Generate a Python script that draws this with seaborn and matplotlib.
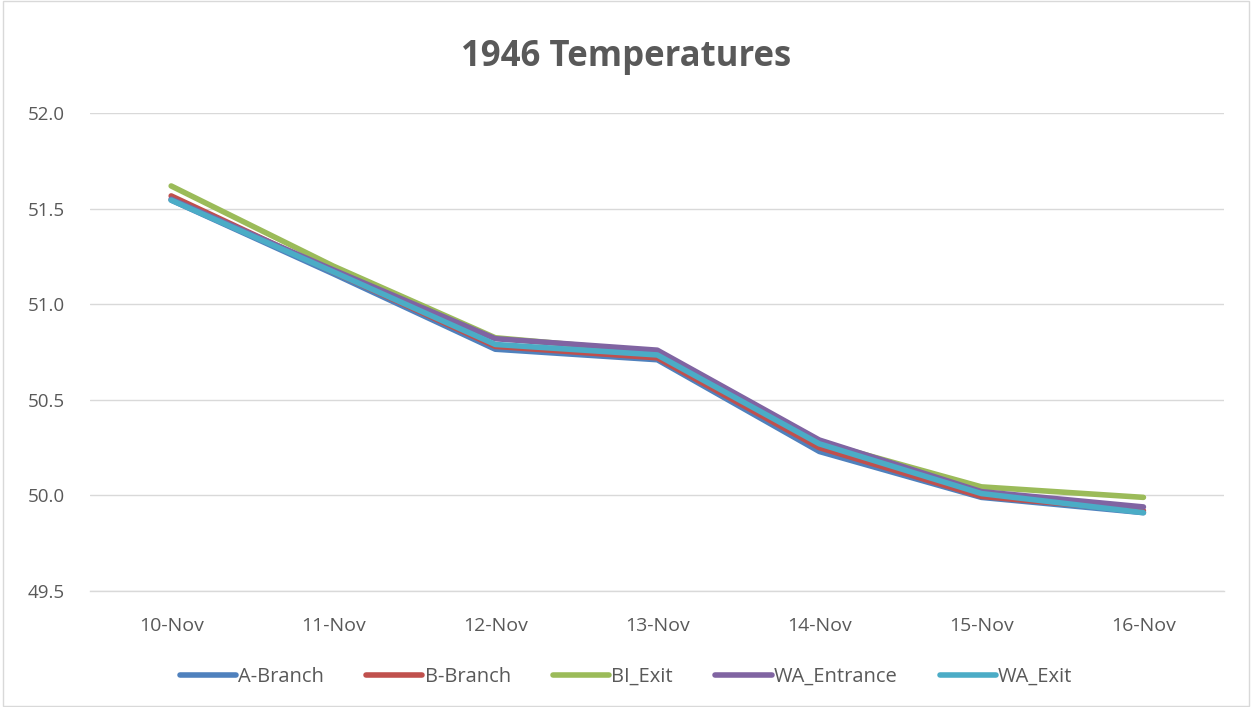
import matplotlib
matplotlib.use("Agg")
import matplotlib.pyplot as plt
import seaborn as sns
import pandas as pd
import numpy as np
from matplotlib.ticker import FixedLocator

dates = ["10-Nov", "11-Nov", "12-Nov", "13-Nov", "14-Nov", "15-Nov", "16-Nov"]
a_branch = [51.545, 51.16, 50.765, 50.71, 50.23, 49.99, 49.91]
b_branch = [51.567, 51.17, 50.78, 50.72, 50.25, 49.995, 49.92]
bi_exit = [51.619, 51.20, 50.825, 50.75, 50.28, 50.045, 49.99]
wa_entrance = [51.55, 51.18, 50.82, 50.76, 50.29, 50.02, 49.94]
wa_exit = [51.545, 51.17, 50.79, 50.735, 50.27, 50.01, 49.91]
series_names = ["A-Branch", "B-Branch", "BI_Exit", "WA_Entrance", "WA_Exit"]
colors = ["#4F81BD", "#C0504D", "#9BBB59", "#8064A2", "#4BACC6"]
yticks = [49.5, 50.0, 50.5, 51.0, 51.5, 52.0]

series = [a_branch, b_branch, bi_exit, wa_entrance, wa_exit]
rows = []
for name, vals in zip(series_names, series):
    for i, (d, v) in enumerate(zip(dates, vals)):
        rows.append({"idx": i, "date": d, "series": name, "value": v})
df = pd.DataFrame(rows)

sns.set_style("white")
plt.rcParams['font.family'] = ['Open Sans', 'DejaVu Sans']

fig = plt.figure(figsize=(12.52, 7.07), dpi=100)
ax = fig.add_axes([0.072, 0.164, 0.906, 0.676])

sns.lineplot(data=df, x="idx", y="value", hue="series", hue_order=series_names,
             palette=colors, linewidth=4.0, ax=ax, sort=False, legend=True,
             solid_capstyle="round")

ax.set_xlim(-0.5, 6.5)
ax.set_ylim(49.5, 52.0)
ax.set_yticks(yticks)
ax.set_yticklabels([f"{t:.1f}" for t in yticks], color="#595959", fontsize=13.5)
ax.set_xticks(range(len(dates)))
ax.set_xticklabels(dates, color="#595959", fontsize=14)
ax.xaxis.set_minor_locator(FixedLocator(np.arange(-0.5, 7.0, 1.0)))
ax.tick_params(axis="x", which="major", length=0, pad=19)
ax.tick_params(axis="x", which="minor", length=14, color="#D9D9D9", width=1)
ax.tick_params(axis="y", length=0, pad=18)
ax.grid(axis="y", color="#D9D9D9", linewidth=1)
ax.set_axisbelow(True)
for s in ["top", "right", "left"]:
    ax.spines[s].set_visible(False)
ax.spines["bottom"].set_color("#D9D9D9")
ax.spines["bottom"].set_linewidth(1)
ax.set_xlabel("")
ax.set_ylabel("")

fig.suptitle("1946 Temperatures", y=0.945, fontsize=25, fontweight="bold", color="#595959")

handles, labels = ax.get_legend_handles_labels()
ax.legend(handles, labels, loc="center", bbox_to_anchor=(0.5, 0.043), bbox_transform=fig.transFigure,
          ncol=5, frameon=False, fontsize=14.5, labelcolor="#595959", handlelength=2.8,
          columnspacing=2.1, handletextpad=0.1)

border = plt.Rectangle((0.002, 0.002), 0.996, 0.996, transform=fig.transFigure,
                       fill=False, edgecolor="#D9D9D9", linewidth=1)
fig.patches.append(border)

fig.savefig("out.png", dpi=100, facecolor="white")
